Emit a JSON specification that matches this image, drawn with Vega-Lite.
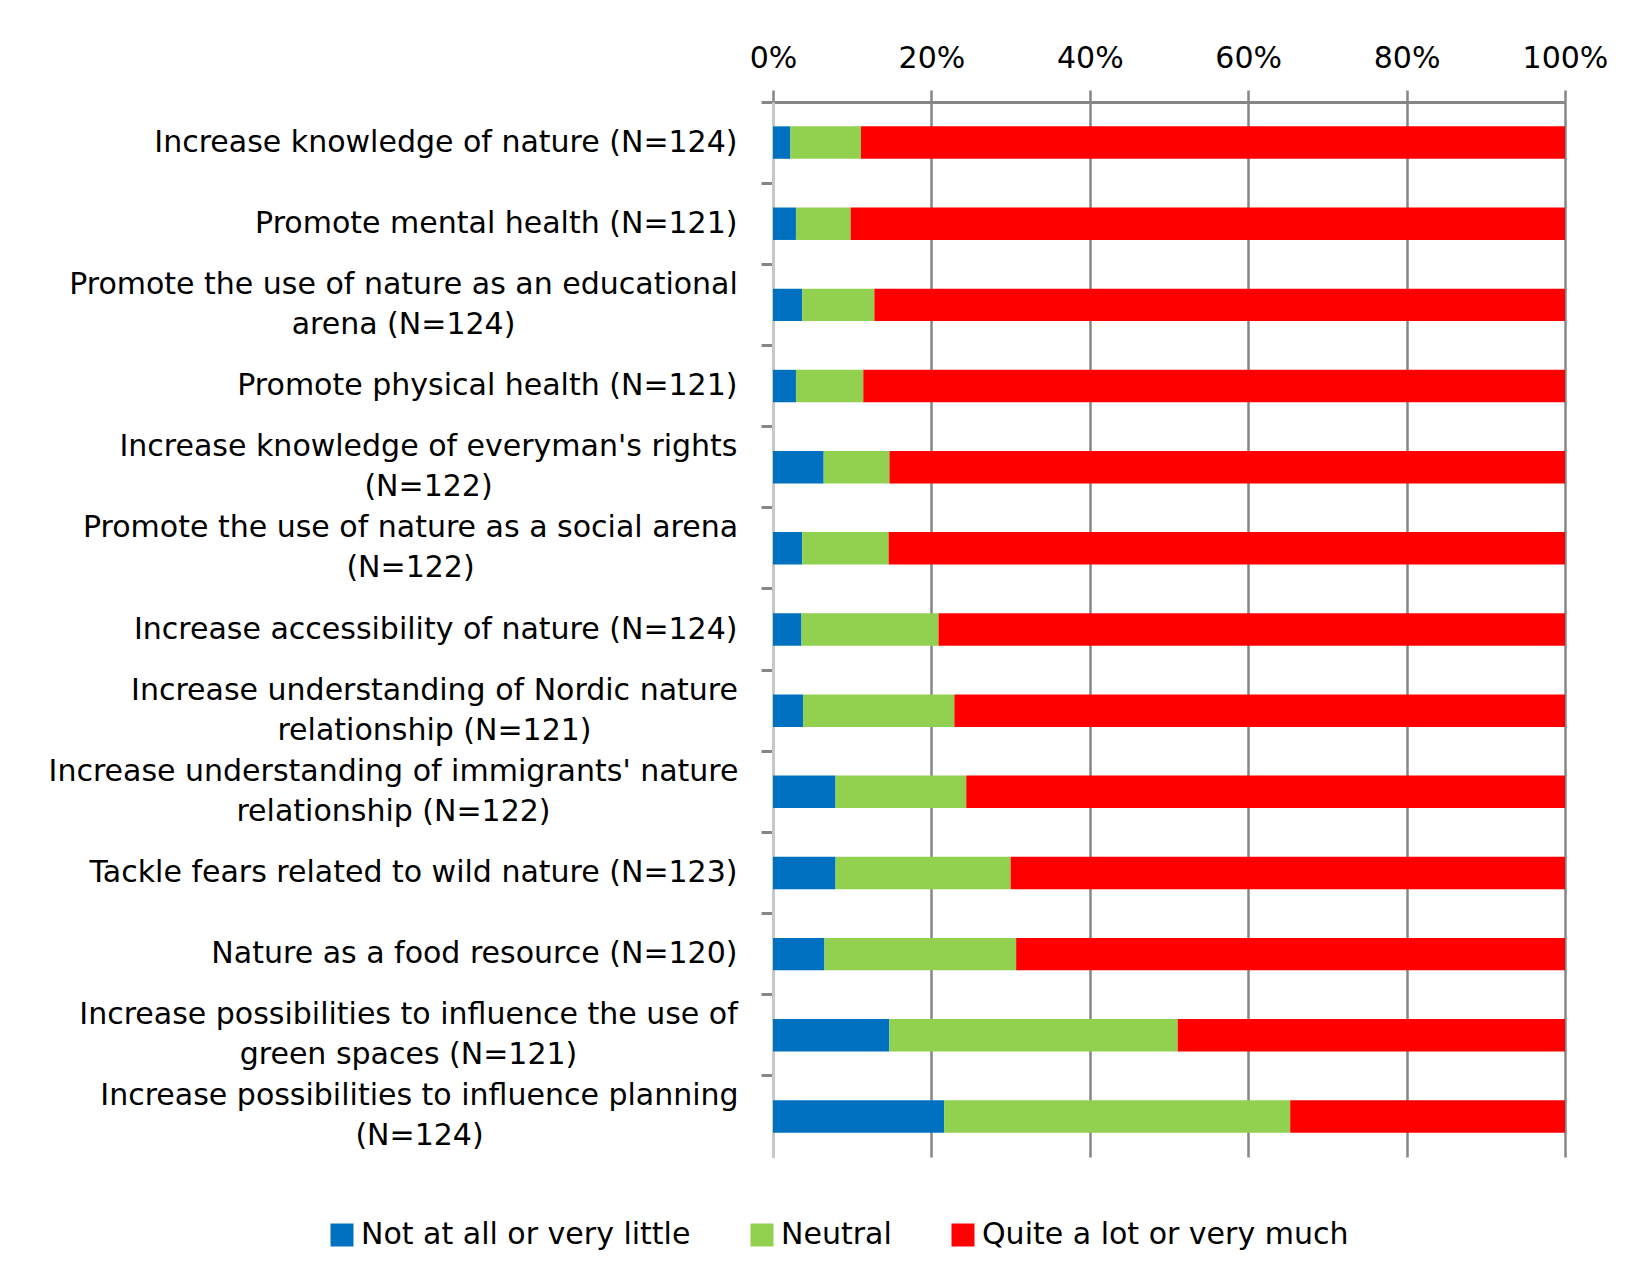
{
  "$schema": "https://vega.github.io/schema/vega-lite/v6.json",
  "width": 792,
  "height": 1055,
  "autosize": "none",
  "padding": {"left": 773, "top": 102, "right": 79, "bottom": 131},
  "background": "white",
  "config": {"font": "DejaVu Sans", "view": {"stroke": null}},
  "data": {"values": [
    {"item": "Increase knowledge of nature (N=124)", "resp": "Not at all or very little", "k": 1, "pct": 0.022},
    {"item": "Increase knowledge of nature (N=124)", "resp": "Neutral", "k": 2, "pct": 0.089},
    {"item": "Increase knowledge of nature (N=124)", "resp": "Quite a lot or very much", "k": 3, "pct": 0.889},
    {"item": "Promote mental health (N=121)", "resp": "Not at all or very little", "k": 1, "pct": 0.029},
    {"item": "Promote mental health (N=121)", "resp": "Neutral", "k": 2, "pct": 0.069},
    {"item": "Promote mental health (N=121)", "resp": "Quite a lot or very much", "k": 3, "pct": 0.902},
    {"item": "Promote the use of nature as an educational|arena (N=124)", "resp": "Not at all or very little", "k": 1, "pct": 0.037},
    {"item": "Promote the use of nature as an educational|arena (N=124)", "resp": "Neutral", "k": 2, "pct": 0.091},
    {"item": "Promote the use of nature as an educational|arena (N=124)", "resp": "Quite a lot or very much", "k": 3, "pct": 0.872},
    {"item": "Promote physical health (N=121)", "resp": "Not at all or very little", "k": 1, "pct": 0.029},
    {"item": "Promote physical health (N=121)", "resp": "Neutral", "k": 2, "pct": 0.085},
    {"item": "Promote physical health (N=121)", "resp": "Quite a lot or very much", "k": 3, "pct": 0.886},
    {"item": "Increase knowledge of everyman's rights|(N=122)", "resp": "Not at all or very little", "k": 1, "pct": 0.064},
    {"item": "Increase knowledge of everyman's rights|(N=122)", "resp": "Neutral", "k": 2, "pct": 0.083},
    {"item": "Increase knowledge of everyman's rights|(N=122)", "resp": "Quite a lot or very much", "k": 3, "pct": 0.853},
    {"item": "Promote the use of nature as a social arena|(N=122)", "resp": "Not at all or very little", "k": 1, "pct": 0.037},
    {"item": "Promote the use of nature as a social arena|(N=122)", "resp": "Neutral", "k": 2, "pct": 0.109},
    {"item": "Promote the use of nature as a social arena|(N=122)", "resp": "Quite a lot or very much", "k": 3, "pct": 0.854},
    {"item": "Increase accessibility of nature (N=124)", "resp": "Not at all or very little", "k": 1, "pct": 0.036},
    {"item": "Increase accessibility of nature (N=124)", "resp": "Neutral", "k": 2, "pct": 0.173},
    {"item": "Increase accessibility of nature (N=124)", "resp": "Quite a lot or very much", "k": 3, "pct": 0.791},
    {"item": "Increase understanding of Nordic nature|relationship (N=121)", "resp": "Not at all or very little", "k": 1, "pct": 0.038},
    {"item": "Increase understanding of Nordic nature|relationship (N=121)", "resp": "Neutral", "k": 2, "pct": 0.191},
    {"item": "Increase understanding of Nordic nature|relationship (N=121)", "resp": "Quite a lot or very much", "k": 3, "pct": 0.771},
    {"item": "Increase understanding of immigrants' nature|relationship (N=122)", "resp": "Not at all or very little", "k": 1, "pct": 0.079},
    {"item": "Increase understanding of immigrants' nature|relationship (N=122)", "resp": "Neutral", "k": 2, "pct": 0.165},
    {"item": "Increase understanding of immigrants' nature|relationship (N=122)", "resp": "Quite a lot or very much", "k": 3, "pct": 0.756},
    {"item": "Tackle fears related to wild nature (N=123)", "resp": "Not at all or very little", "k": 1, "pct": 0.079},
    {"item": "Tackle fears related to wild nature (N=123)", "resp": "Neutral", "k": 2, "pct": 0.221},
    {"item": "Tackle fears related to wild nature (N=123)", "resp": "Quite a lot or very much", "k": 3, "pct": 0.700},
    {"item": "Nature as a food resource (N=120)", "resp": "Not at all or very little", "k": 1, "pct": 0.065},
    {"item": "Nature as a food resource (N=120)", "resp": "Neutral", "k": 2, "pct": 0.242},
    {"item": "Nature as a food resource (N=120)", "resp": "Quite a lot or very much", "k": 3, "pct": 0.693},
    {"item": "Increase possibilities to influence the use of|green spaces (N=121)", "resp": "Not at all or very little", "k": 1, "pct": 0.147},
    {"item": "Increase possibilities to influence the use of|green spaces (N=121)", "resp": "Neutral", "k": 2, "pct": 0.364},
    {"item": "Increase possibilities to influence the use of|green spaces (N=121)", "resp": "Quite a lot or very much", "k": 3, "pct": 0.489},
    {"item": "Increase possibilities to influence planning|(N=124)", "resp": "Not at all or very little", "k": 1, "pct": 0.216},
    {"item": "Increase possibilities to influence planning|(N=124)", "resp": "Neutral", "k": 2, "pct": 0.437},
    {"item": "Increase possibilities to influence planning|(N=124)", "resp": "Quite a lot or very much", "k": 3, "pct": 0.347}
  ]},
  "mark": {"type": "bar", "height": {"band": 0.4}},
  "encoding": {
    "y": {
      "field": "item", "type": "nominal", "sort": null,
      "scale": {"paddingInner": 0, "paddingOuter": 0},
      "axis": {
        "title": null,
        "labelExpr": "split(datum.label, '|')",
        "labelFontSize": 30, "labelColor": "#000000", "labelLineHeight": 40,
        "labelOffset": {"condition": {"test": "indexof(datum.value, '|') >= 0", "value": -20}, "value": 0},
        "labelAlign": {"condition": {"test": "indexof(datum.value, '|') >= 0", "value": "center"}, "value": "right"},
        "labelPadding": {"condition": [
          {"test": "indexof(datum.value, 'educational') >= 0", "value": 358},
          {"test": "indexof(datum.value, 'everyman') >= 0", "value": 333},
          {"test": "indexof(datum.value, 'social arena') >= 0", "value": 351},
          {"test": "indexof(datum.value, 'Nordic') >= 0", "value": 327},
          {"test": "indexof(datum.value, 'immigrants') >= 0", "value": 368},
          {"test": "indexof(datum.value, 'green spaces') >= 0", "value": 353},
          {"test": "indexof(datum.value, 'planning') >= 0", "value": 342}
        ], "value": 24},
        "labelLimit": 900,
        "tickSize": 12, "tickColor": "#868686", "tickWidth": 3, "bandPosition": 0,
        "domainColor": "#c8c8c8", "domainWidth": 3, "grid": false
      }
    },
    "x": {
      "field": "pct", "type": "quantitative", "stack": "zero",
      "scale": {"domain": [0, 1], "nice": false},
      "axis": {
        "orient": "top", "title": null,
        "values": [0, 0.2, 0.4, 0.6, 0.8, 1], "format": ".0%",
        "labelFontSize": 30, "labelColor": "#000000", "labelPadding": 17, "labelFlush": false,
        "grid": true, "gridColor": "#868686", "gridWidth": 2.5, "gridOpacity": 1,
        "tickColor": "#868686", "tickWidth": 2.5, "tickSize": 12,
        "domainColor": "#868686", "domainWidth": 3
      }
    },
    "color": {
      "field": "resp", "type": "nominal",
      "scale": {
        "domain": ["Not at all or very little", "Neutral", "Quite a lot or very much"],
        "range": ["#0070C0", "#92D050", "#FF0000"]
      },
      "legend": {
        "title": null, "orient": "none", "direction": "horizontal",
        "legendX": -446, "legendY": 1118, "padding": 0,
        "symbolType": "square", "symbolSize": 529, "symbolStrokeWidth": 0, "symbolOpacity": 1,
        "labelFontSize": 30, "labelColor": "#000000", "labelOffset": 4,
        "columnPadding": 56, "labelLimit": 800
      }
    },
    "order": {"field": "k", "type": "quantitative"}
  }
}
